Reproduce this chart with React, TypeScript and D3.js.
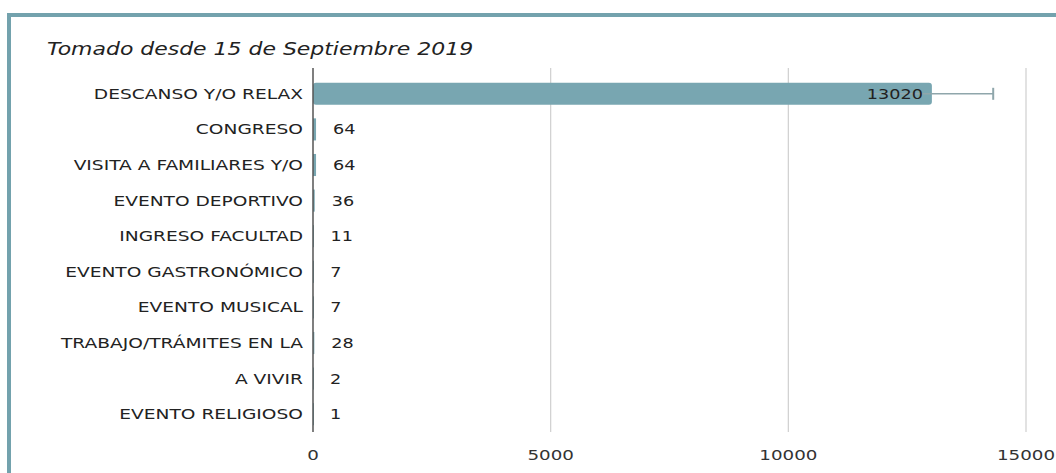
import { useEffect, useRef } from 'react'
import * as d3 from 'd3'

const categories = [
  'DESCANSO Y/O RELAX',
  'CONGRESO',
  'VISITA A FAMILIARES Y/O',
  'EVENTO DEPORTIVO',
  'INGRESO FACULTAD',
  'EVENTO GASTRONÓMICO',
  'EVENTO MUSICAL',
  'TRABAJO/TRÁMITES EN LA',
  'A VIVIR',
  'EVENTO RELIGIOSO',
]
const values = [13020, 64, 64, 36, 11, 7, 7, 28, 2, 1]
const errorLow = [11720, null, null, null, null, null, null, null, null, null]
const errorHigh = [14310, null, null, null, null, null, null, null, null, null]
const xTicks = [0, 5000, 10000, 15000]
const title = 'Tomado desde 15 de Septiembre 2019'

export default function App() {
  const svgRef = useRef<SVGSVGElement>(null)

  useEffect(() => {
    if (!svgRef.current) return
    const W = 1056
    const H = 473
    const svg = d3.select(svgRef.current)
    svg.selectAll('*').remove()
    svg.attr('width', W).attr('height', H)

    const font = 'DejaVu Sans, Verdana, sans-serif'
    const barColor = '#78a6b1'
    const sx = 1.26 // the original text is drawn wide
    const sxCat = 1.33

    // frame
    svg.append('rect').attr('x', 0).attr('y', 0).attr('width', W).attr('height', H).attr('fill', '#fff')
    svg.append('rect').attr('x', 7).attr('y', 13).attr('width', W).attr('height', 4).attr('fill', '#73a2ad')
    svg.append('rect').attr('x', 7).attr('y', 13).attr('width', 4).attr('height', H).attr('fill', '#73a2ad')

    svg.append('text')
      .attr('transform', `translate(47,55) scale(1.255,1)`)
      .style('font-family', font).style('font-style', 'italic').style('font-size', '17.5px')
      .style('fill', '#222')
      .text(title)

    const left = 313
    const top = 68
    const bottom = 432

    const x = d3.scaleLinear().domain([0, 15000]).range([left, 1026])
    const y = d3.scaleBand().domain(categories).range([76, bottom]).paddingInner(0.38).paddingOuter(0.19)

    // grid
    svg.selectAll('.grid')
      .data(xTicks.filter(t => t > 0))
      .enter().append('line')
      .attr('x1', d => x(d)).attr('x2', d => x(d))
      .attr('y1', top).attr('y2', bottom)
      .attr('stroke', '#cfcfcf').attr('stroke-width', 1.2)

    // tick labels
    svg.selectAll('.tick')
      .data(xTicks)
      .enter().append('text')
      .attr('transform', d => `translate(${x(d)},460) scale(${sx},1)`)
      .attr('text-anchor', 'middle')
      .style('font-family', font).style('font-size', '14.5px').style('fill', '#333')
      .text(d => String(d))

    const data = categories.map((c, i) => ({ c, v: values[i], lo: errorLow[i], hi: errorHigh[i] }))
    const cy = (c: string) => y(c)! + y.bandwidth() / 2

    // bars
    svg.selectAll('.bar')
      .data(data)
      .enter().append('rect')
      .attr('x', x(0))
      .attr('y', d => y(d.c)!)
      .attr('width', d => Math.max(x(d.v) - x(0), 1))
      .attr('height', y.bandwidth())
      .attr('rx', d => (x(d.v) - x(0) > 10 ? 3 : 0))
      .attr('fill', barColor)

    // axis line
    svg.append('line')
      .attr('x1', left).attr('x2', left).attr('y1', top).attr('y2', bottom)
      .attr('stroke', '#555').attr('stroke-width', 1.5)

    // error bars
    const err = data.filter(d => d.hi != null)
    svg.selectAll('.err')
      .data(err)
      .enter().append('line')
      .attr('x1', d => x(d.lo as number)).attr('x2', d => x(d.hi as number))
      .attr('y1', d => cy(d.c)).attr('y2', d => cy(d.c))
      .attr('stroke', '#8fa6ab').attr('stroke-width', 1.5)
    svg.selectAll('.cap')
      .data(err)
      .enter().append('line')
      .attr('x1', d => x(d.hi as number)).attr('x2', d => x(d.hi as number))
      .attr('y1', d => cy(d.c) - 6).attr('y2', d => cy(d.c) + 6)
      .attr('stroke', '#8fa6ab').attr('stroke-width', 2)

    // category labels
    svg.selectAll('.cat')
      .data(data)
      .enter().append('text')
      .attr('transform', d => `translate(303,${cy(d.c)}) scale(${sxCat},1)`)
      .attr('dy', '0.36em')
      .attr('text-anchor', 'end')
      .style('font-family', font).style('font-size', '14px').style('fill', '#222')
      .text(d => d.c)

    // value labels
    svg.selectAll('.val')
      .data(data)
      .enter().append('text')
      .attr('transform', d => `translate(${d.v > 5000 ? x(d.v) - 9 : x(d.v) + 17},${cy(d.c)}) scale(${sx},1)`)
      .attr('dy', '0.36em')
      .attr('text-anchor', d => (d.v > 5000 ? 'end' : 'start'))
      .style('font-family', font).style('font-size', '14px').style('fill', '#222')
      .text(d => String(d.v))
  }, [])

  return <svg ref={svgRef} style={{ position: 'absolute', left: 0, top: 0 }}></svg>
}
